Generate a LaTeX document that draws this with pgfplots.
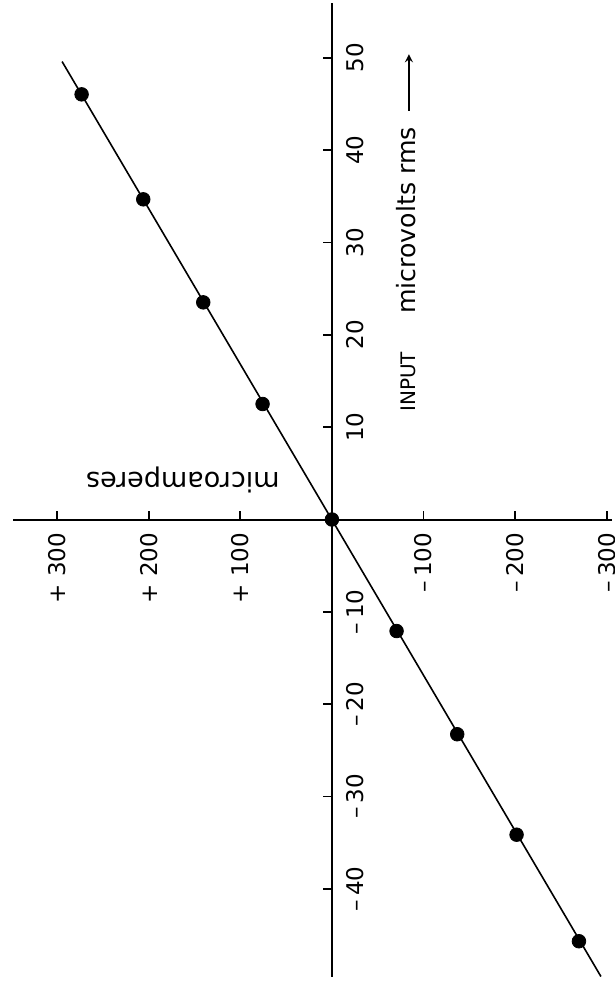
\documentclass[border=0pt]{standalone}
\usepackage{fontspec}
\setmainfont{DejaVu Sans}
\usepackage{pgfplots}
\pgfplotsset{compat=1.18}

\begin{document}
\begin{tikzpicture}
\begin{axis}[
  x=0.458pt, y=4.6165pt,
  x dir=reverse,
  axis lines=middle,
  axis line style={-, line width=1pt, black},
  xmin=-306, xmax=348, ymin=-49.5, ymax=55.9,
  xtick={300,200,100,-100,-200,-300},
  xticklabels={+ 300,+ 200,+ 100,–\,100,–\,200,–\,300},
  ytick={50,40,30,20,10,-10,-20,-30,-40},
  yticklabels={50,40,30,20,10,–\,10,–\,20,–\,30,–\,40},
  tick align=inside,
  major tick length=4.5pt,
  tick style={line width=0.9pt, black},
  % labels are turned a quarter turn, so the shifts are given in the turned frame
  xticklabel style={rotate=90, anchor=east, inner sep=0pt, xshift=-6.5pt,
                    font=\fontsize{11.5}{13}\selectfont},
  yticklabel style={rotate=90, anchor=north, inner sep=0pt, yshift=-7pt,
                    font=\fontsize{11.5}{13}\selectfont},
  clip=false,
]
% fitted response line
\addplot[black, line width=0.8pt] coordinates {(294.6,49.6) (-293.7,-49.5)};
% measured points: output current (microamperes) vs. input (microvolts rms)
\addplot[only marks, mark=*, mark size=3.4pt, black] coordinates {
  (273.3,46.05) (206.0,34.68) (140.5,23.52) (75.7,12.51) (0,0)
  (-70.6,-12.08) (-136.8,-23.26) (-201.6,-34.14) (-269.7,-45.68)
};
\node[rotate=90, anchor=base west, inner sep=0pt] at (axis cs:-91.7,11.64)
  {\fontsize{10}{12}\selectfont INPUT\hspace{19pt}\fontsize{12.6}{14}\selectfont microvolts rms};
\draw[-stealth, line width=0.8pt] (axis cs:-84.1,44.3) -- (axis cs:-84.1,50.4);
\node[rotate=180, inner sep=0pt, font=\fontsize{13.5}{15}\selectfont] at (axis cs:162.7,4.28) {microamperes};
\coordinate (bbA) at (axis cs:362.4,56.27);
\coordinate (bbB) at (axis cs:-309.0,-50.42);
\end{axis}
\pgfresetboundingbox
\path (bbA) rectangle (bbB);
\end{tikzpicture}
\end{document}
